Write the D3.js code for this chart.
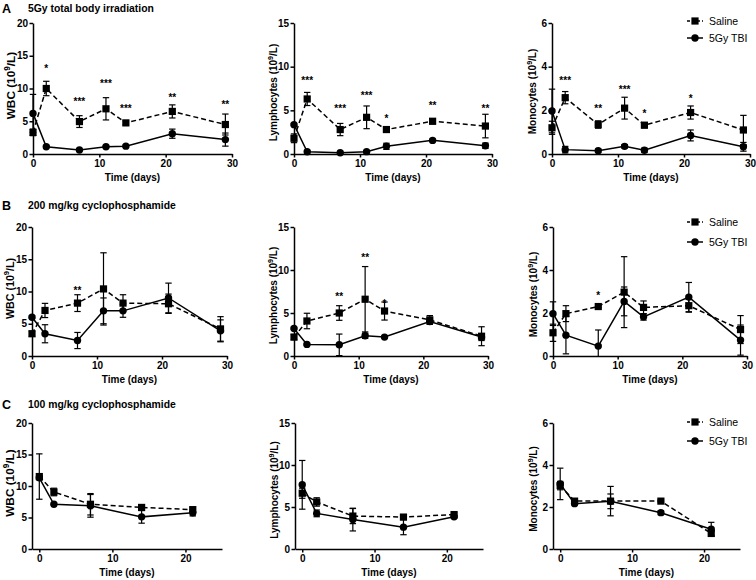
<!DOCTYPE html>
<html><head><meta charset="utf-8">
<script src="https://cdn.jsdelivr.net/npm/d3@7"></script>
<style>body{margin:0;background:#fff}svg{display:block}</style>
</head><body><svg id="c" width="756" height="580"></svg>
<script>
// ---------- data ----------
const daysAB = [0, 2, 7, 11, 14, 21, 29];
const daysC = [0, 2, 7, 14, 21];
const xTicksAB = [0, 10, 20, 30];
const xTicksC = [0, 10, 20];
const wbcTicks = [0, 5, 10, 15, 20];
const lymTicks = [0, 5, 10, 15];
const monoTicks = [0, 2, 4, 6];
const seriesNames = ["Saline", "5Gy TBI"];
const rowLetters = ["A", "B", "C"];
const rowTitles = ["5Gy total body irradiation", "200 mg/kg cyclophosphamide", "100 mg/kg cyclophosphamide"];
const yTitles = ["WBC", "Lymphocytes", "Monocytes"];
const xTitle = "Time (days)";

// Row A: 5Gy TBI
const aWbcSaline = [3.3, 10.0, 4.95, 6.9, 4.75, 6.5, 4.5];
const aWbcSalineErr = [0.5, 1.1, 0.9, 1.7, 0.3, 1.0, 1.6];
const aWbcTbi = [6.2, 1.1, 0.6, 1.1, 1.2, 3.1, 2.2];
const aWbcTbiErr = [2.9, 0.15, 0.1, 0.15, 0.15, 0.7, 1.0];
const aWbcStars = [[2, "*", 13.4], [7, "***", 8.3], [11, "***", 11.1], [14, "***", 7.3], [21, "**", 9.0], [29, "**", 7.9]];

const aLymSaline = [1.8, 6.3, 2.8, 4.2, 2.8, 3.75, 3.2];
const aLymSalineErr = [0.5, 0.75, 0.7, 1.3, 0.3, 0.3, 1.35];
const aLymTbi = [3.36, 0.25, 0.15, 0.27, 0.88, 1.56, 0.95];
const aLymTbiErr = [0.1, 0.1, 0.05, 0.1, 0.35, 0.15, 0.3];
const aLymStars = [[2, "***", 8.7], [7, "***", 5.4], [11, "***", 6.9], [14, "*", 4.35], [21, "**", 5.8], [29, "**", 5.4]];

const aMonoSaline = [1.2, 2.58, 1.35, 2.1, 1.32, 1.9, 1.1];
const aMonoSalineErr = [0.3, 0.28, 0.17, 0.5, 0.12, 0.3, 0.67];
const aMonoTbi = [1.97, 0.2, 0.15, 0.35, 0.17, 0.85, 0.33];
const aMonoTbiErr = [1.0, 0.15, 0.07, 0.08, 0.1, 0.25, 0.2];
const aMonoStars = [[2, "***", 3.46], [7, "**", 2.17], [11, "***", 3.04], [14, "*", 1.94], [21, "*", 2.63]];

// Row B: 200 mg/kg cyclophosphamide
const bWbcSaline = [3.45, 7.06, 8.2, 10.4, 8.2, 8.1, 4.2];
const bWbcSalineErr = [0.4, 1.1, 1.3, 5.6, 1.3, 1.5, 1.9];
const bWbcTbi = [6.0, 3.45, 2.4, 7.0, 7.0, 9.0, 3.9];
const bWbcTbiErr = [0.2, 1.4, 1.25, 2.0, 1.0, 2.3, 1.7];
const bWbcStars = [[7, "**", 10.5]];

const bLymSaline = [2.2, 4.07, 5.0, 6.6, 5.23, 4.2, 2.3];
const bLymSalineErr = [0.3, 0.9, 0.85, 3.8, 1.05, 0.5, 1.1];
const bLymTbi = [3.2, 1.35, 1.3, 2.35, 2.2, 4.0, 2.2];
const bLymTbiErr = [0.1, 0.1, 1.25, 0.3, 0.1, 0.3, 0.4];
const bLymStars = [[7, "**", 7.2], [11, "**", 11.7], [14, "*", 6.3]];

const bMonoSaline = [1.08, 1.97, 2.3, 2.97, 2.26, 2.34, 1.23];
const bMonoSalineErr = [0.4, 0.37, 0.05, 1.65, 0.3, 0.3, 0.65];
const bMonoTbi = [1.97, 0.97, 0.46, 2.54, 1.82, 2.74, 0.74];
const bMonoTbiErr = [0.55, 0.87, 0.75, 0.67, 0.15, 0.68, 0.7];
const bMonoStars = [[7, "*", 2.9]];

// Row C: 100 mg/kg cyclophosphamide
const cWbcSaline = [11.5, 9.05, 7.1, 6.6, 6.25];
const cWbcSalineErr = [3.6, 0.6, 1.7, 0.2, 0.3];
const cWbcTbi = [11.3, 7.1, 6.85, 5.1, 5.75];
const cWbcTbiErr = [0.3, 0.1, 1.8, 1.0, 0.5];

const cLymSaline = [6.64, 5.6, 3.92, 3.8, 4.1];
const cLymSalineErr = [0.6, 0.5, 0.9, 0.2, 0.2];
const cLymTbi = [7.64, 4.24, 3.5, 2.6, 3.84];
const cLymTbiErr = [2.9, 0.4, 1.35, 0.9, 0.2];

const cMonoSaline = [3.02, 2.28, 2.28, 2.28, 0.74];
const cMonoSalineErr = [0.2, 0.05, 0.7, 0.05, 0.1];
const cMonoTbi = [3.1, 2.16, 2.27, 1.73, 0.94];
const cMonoTbiErr = [0.75, 0.05, 0.35, 0.1, 0.33];

// ---------- panels ----------
const panels = [
  {row:0,col:0,days:daysAB,xt:xTicksAB,xd:[0,30],yt:wbcTicks,yd:[0,20],s:aWbcSaline,se:aWbcSalineErr,t:aWbcTbi,te:aWbcTbiErr,stars:aWbcStars},
  {row:0,col:1,days:daysAB,xt:xTicksAB,xd:[0,30],yt:lymTicks,yd:[0,15],s:aLymSaline,se:aLymSalineErr,t:aLymTbi,te:aLymTbiErr,stars:aLymStars},
  {row:0,col:2,days:daysAB,xt:xTicksAB,xd:[0,30],yt:monoTicks,yd:[0,6],s:aMonoSaline,se:aMonoSalineErr,t:aMonoTbi,te:aMonoTbiErr,stars:aMonoStars},
  {row:1,col:0,days:daysAB,xt:xTicksAB,xd:[0,30],yt:wbcTicks,yd:[0,20],s:bWbcSaline,se:bWbcSalineErr,t:bWbcTbi,te:bWbcTbiErr,stars:bWbcStars},
  {row:1,col:1,days:daysAB,xt:xTicksAB,xd:[0,30],yt:lymTicks,yd:[0,15],s:bLymSaline,se:bLymSalineErr,t:bLymTbi,te:bLymTbiErr,stars:bLymStars},
  {row:1,col:2,days:daysAB,xt:xTicksAB,xd:[0,30],yt:monoTicks,yd:[0,6],s:bMonoSaline,se:bMonoSalineErr,t:bMonoTbi,te:bMonoTbiErr,stars:bMonoStars},
  {row:2,col:0,days:daysC,xt:xTicksC,xd:[-1,25],yt:wbcTicks,yd:[0,20],s:cWbcSaline,se:cWbcSalineErr,t:cWbcTbi,te:cWbcTbiErr,stars:[]},
  {row:2,col:1,days:daysC,xt:xTicksC,xd:[-1,25],yt:lymTicks,yd:[0,15],s:cLymSaline,se:cLymSalineErr,t:cLymTbi,te:cLymTbiErr,stars:[]},
  {row:2,col:2,days:daysC,xt:xTicksC,xd:[-1,25],yt:monoTicks,yd:[0,6],s:cMonoSaline,se:cMonoSalineErr,t:cMonoTbi,te:cMonoTbiErr,stars:[]}
];

// ---------- layout ----------
const rowY = [[23,154],[227,356],[423,549]];
const colX = [[[33,232],[294,492],[552,750]],[[32,227],[294,488],[553,747]],[[32,222],[295,483],[553,740]]];
const yLabOff = [22,21,20];
const yLabShift = [-3,4,3];
const yLabSize = [[11.8,10,10],[10.7,10,10],[11.8,10,10]];
const titleBase = [12,209,408];
const legendY = [[21,38],[222,242],[422,441]];
const FONT = "'Liberation Sans', Arial, Helvetica, sans-serif";

const svg = d3.select("#c").style("font-family", FONT);

rowLetters.forEach((L,i)=>{
  svg.append("text").attr("x",2).attr("y",titleBase[i]+1).attr("font-size",12.5).attr("font-weight","bold").attr("fill","#000").text(L);
  svg.append("text").attr("x",28).attr("y",titleBase[i]).attr("font-size",10.4).attr("font-weight","bold").attr("fill","#000").text(rowTitles[i]);
});

panels.forEach(p=>{
  const [x0,x1] = colX[p.row][p.col];
  const [yTop,yBot] = rowY[p.row];
  const x = d3.scaleLinear().domain(p.xd).range([x0,x1]);
  const y = d3.scaleLinear().domain(p.yd).range([yBot,yTop]);
  const g = svg.append("g");

  const ya = g.append("g").attr("transform",`translate(${x0},0)`)
    .call(d3.axisLeft(y).tickValues(p.yt).tickFormat(d3.format("d")).tickSize(3.5).tickPadding(1.5).tickSizeOuter(0));
  const xa = g.append("g").attr("transform",`translate(0,${yBot})`)
    .call(d3.axisBottom(x).tickValues(p.xt).tickFormat(d3.format("d")).tickSize(3.5).tickPadding(2.5).tickSizeOuter(0));
  [ya,xa].forEach(a=>{
    a.selectAll("path").attr("stroke","#000").attr("stroke-width",1.5);
    a.selectAll("line").attr("stroke","#000").attr("stroke-width",1.5);
    a.selectAll("text").attr("font-size",10).attr("font-weight","bold").attr("fill","#000").attr("font-family",FONT);
  });

  g.append("text").attr("x",(x0+x1)/2).attr("y",yBot+27).attr("text-anchor","middle")
    .attr("font-size",10).attr("font-weight","bold").attr("fill","#000").text(xTitle);
  const fs = yLabSize[p.row][p.col];
  const yl = g.append("text").attr("transform",`translate(${x0-yLabOff[p.col]},${(yTop+yBot)/2+yLabShift[p.col]}) rotate(-90)`)
    .attr("text-anchor","middle").attr("dy","0.35em").attr("font-size",fs).attr("font-weight","bold").attr("fill","#000");
  yl.append("tspan").text(yTitles[p.col]+" (10");
  yl.append("tspan").attr("dy",-fs*0.4).attr("font-size",fs*0.7).text("9");
  yl.append("tspan").attr("dy",fs*0.4).text("/L)");

  const series = [
    {v:p.s,e:p.se,dash:"5,3",shape:"square"},
    {v:p.t,e:p.te,dash:null,shape:"circle"}
  ];
  series.forEach(s=>{
    const pts = p.days.map((d,i)=>({d,v:s.v[i],e:s.e[i]}));
    g.append("path").datum(pts)
      .attr("d",d3.line().x(q=>x(q.d)).y(q=>y(q.v)))
      .attr("fill","none").attr("stroke","#000").attr("stroke-width",1.5)
      .attr("stroke-dasharray",s.dash);
    const eb = g.append("g").attr("stroke","#000").attr("stroke-width",1.2);
    pts.forEach(q=>{
      if(!q.e) return;
      const lo = y(Math.max(p.yd[0], q.v-q.e)), hi = y(q.v+q.e), cx = x(q.d);
      eb.append("line").attr("x1",cx).attr("x2",cx).attr("y1",lo).attr("y2",hi);
      eb.append("line").attr("x1",cx-3.2).attr("x2",cx+3.2).attr("y1",hi).attr("y2",hi);
      if(q.v-q.e>p.yd[0]) eb.append("line").attr("x1",cx-3.2).attr("x2",cx+3.2).attr("y1",lo).attr("y2",lo);
    });
    pts.forEach(q=>{
      if(s.shape==="square"){
        g.append("rect").attr("x",x(q.d)-3.6).attr("y",y(q.v)-3.6).attr("width",7.2).attr("height",7.2).attr("fill","#000");
      } else {
        g.append("circle").attr("cx",x(q.d)).attr("cy",y(q.v)).attr("r",3.7).attr("fill","#000");
      }
    });
  });

  p.stars.forEach(([d,lab,lvl])=>{
    g.append("text").attr("x",x(d)).attr("y",y(lvl)+5.5).attr("text-anchor","middle")
      .attr("font-size",10).attr("font-weight","bold").attr("fill","#000").text(lab);
  });

  if(p.col===2){
    const ly = legendY[p.row];
    const lg = g.append("g");
    [0,1].forEach(k=>{
      const yy = ly[k];
      lg.append("line").attr("x1",687).attr("x2",703).attr("y1",yy).attr("y2",yy)
        .attr("stroke","#000").attr("stroke-width",1.5).attr("stroke-dasharray",k===0?"3,2":null);
      if(k===0) lg.append("rect").attr("x",695-3.6).attr("y",yy-3.6).attr("width",7.2).attr("height",7.2).attr("fill","#000");
      else lg.append("circle").attr("cx",695).attr("cy",yy).attr("r",3.7).attr("fill","#000");
      lg.append("text").attr("x",709).attr("y",yy).attr("dy","0.35em").attr("font-size",10.5).attr("fill","#000").text(seriesNames[k]);
    });
  }
});
</script>
</body></html>
